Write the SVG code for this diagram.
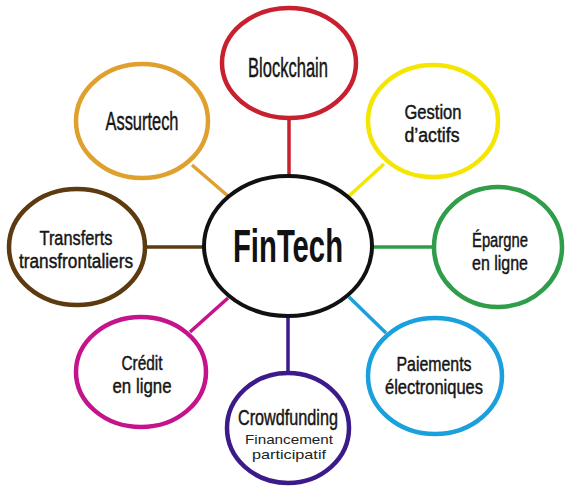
<svg xmlns="http://www.w3.org/2000/svg" width="565" height="486" viewBox="0 0 565 486">
<style>
.n{fill:#fff;stroke-width:4.5}
.t{font-family:"Liberation Sans",Arial,sans-serif;font-size:20px;fill:#151515;stroke:#151515;stroke-width:0.45;text-anchor:middle}
.s{font-family:"Liberation Sans",Arial,sans-serif;font-size:13px;fill:#222;text-anchor:middle}
.c{stroke-width:3.5;fill:none}
</style>
<rect width="565" height="486" fill="#fff"/>
<g id="connectors">
<line class="c" x1="289" y1="118" x2="289" y2="177" stroke="#c8202f"/>
<line class="c" x1="384" y1="164" x2="349" y2="196" stroke="#f4e600"/>
<line class="c" x1="192" y1="165" x2="228" y2="196" stroke="#dfa02d"/>
<line class="c" x1="146" y1="247" x2="205" y2="247" stroke="#5c3b10"/>
<line class="c" x1="372" y1="247" x2="434" y2="247" stroke="#2f9d49"/>
<line class="c" x1="386" y1="333" x2="349" y2="297" stroke="#1aa0dd"/>
<line class="c" x1="190" y1="332" x2="228" y2="298" stroke="#c4148c"/>
<line class="c" x1="288" y1="316" x2="288" y2="373" stroke="#3b1b8a"/>
</g>
<g id="assurtech">
<ellipse class="n" cx="142" cy="121" rx="66" ry="57" stroke="#dfa02d"/>
<text class="t" x="142" y="130" style="font-size:25px" textLength="73" lengthAdjust="spacingAndGlyphs">Assurtech</text>
</g>
<g id="blockchain">
<ellipse class="n" cx="289" cy="63" rx="67" ry="55" stroke="#c8202f"/>
<text class="t" x="288" y="77" style="font-size:27px" textLength="80" lengthAdjust="spacingAndGlyphs">Blockchain</text>
</g>
<g id="gestion">
<ellipse class="n" cx="433" cy="121" rx="65" ry="56" stroke="#f4e600"/>
<text class="t" x="433" y="119" textLength="57" lengthAdjust="spacingAndGlyphs">Gestion</text>
<text class="t" x="432" y="142" textLength="55" lengthAdjust="spacingAndGlyphs">d’actifs</text>
</g>
<g id="transferts">
<ellipse class="n" cx="77" cy="247" rx="68" ry="58" stroke="#5c3b10"/>
<text class="t" x="76" y="245" textLength="73" lengthAdjust="spacingAndGlyphs">Transferts</text>
<text class="t" x="76" y="268" textLength="114" lengthAdjust="spacingAndGlyphs">transfrontaliers</text>
</g>
<g id="epargne">
<ellipse class="n" cx="498" cy="247" rx="64" ry="60" stroke="#2f9d49"/>
<text class="t" x="500" y="247" textLength="56" lengthAdjust="spacingAndGlyphs">Épargne</text>
<text class="t" x="500" y="270" textLength="56" lengthAdjust="spacingAndGlyphs">en ligne</text>
</g>
<g id="paiements">
<ellipse class="n" cx="435" cy="376" rx="67" ry="58" stroke="#1aa0dd"/>
<text class="t" x="434" y="371" textLength="75" lengthAdjust="spacingAndGlyphs">Paiements</text>
<text class="t" x="434" y="394" textLength="98" lengthAdjust="spacingAndGlyphs">électroniques</text>
</g>
<g id="credit">
<ellipse class="n" cx="141" cy="372" rx="65" ry="55" stroke="#c4148c"/>
<text class="t" x="142" y="370" textLength="41" lengthAdjust="spacingAndGlyphs">Crédit</text>
<text class="t" x="142" y="393" textLength="59" lengthAdjust="spacingAndGlyphs">en ligne</text>
</g>
<g id="crowdfunding">
<ellipse class="n" cx="288" cy="428" rx="61" ry="55" stroke="#3b1b8a"/>
<text class="t" x="288" y="425" style="font-size:22px" textLength="100" lengthAdjust="spacingAndGlyphs">Crowdfunding</text>
<text class="s" x="289" y="444" textLength="88" lengthAdjust="spacingAndGlyphs">Financement</text>
<text class="s" x="289" y="459" textLength="74" lengthAdjust="spacingAndGlyphs">participatif</text>
</g>
<g id="fintech">
<ellipse class="n" cx="288" cy="246" rx="84" ry="70" stroke="#111" style="stroke-width:4"/>
<text class="t" x="288" y="262" style="font-size:47px;font-weight:bold;fill:#111;stroke:none" textLength="110" lengthAdjust="spacingAndGlyphs">FinTech</text>
</g>
</svg>
